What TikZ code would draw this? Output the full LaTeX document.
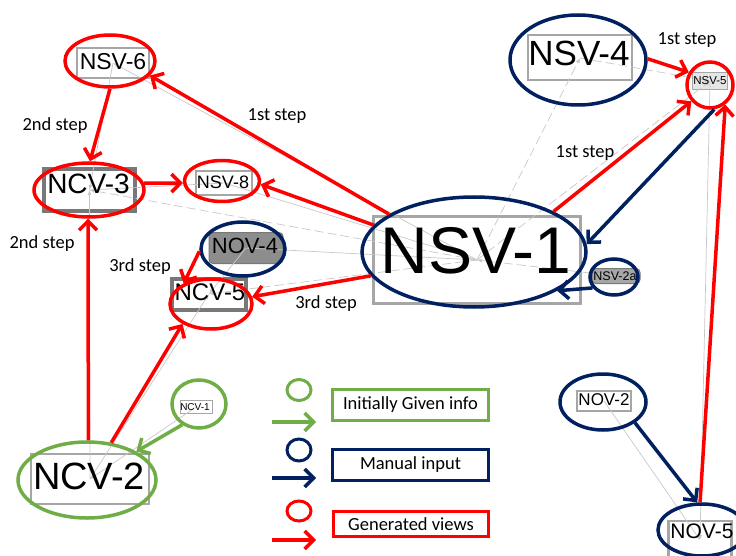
\documentclass[tikz,border=0pt]{standalone}
\usepackage{fontspec}
\setmainfont{Liberation Sans}
\newfontfamily\labfont{Carlito}
\usetikzlibrary{arrows.meta,shapes.geometric}
\definecolor{myred}{RGB}{255,0,0}
\definecolor{navy}{RGB}{0,32,96}
\definecolor{mygreen}{RGB}{112,173,71}
\definecolor{lgray}{RGB}{166,166,166}
\definecolor{dgray}{RGB}{120,120,120}
\definecolor{lline}{RGB}{200,200,200}
\newcommand{\fs}[1]{\fontsize{#1}{#1}\selectfont}
\begin{document}
\begin{tikzpicture}[x=1pt,y=-1pt,
  box/.style={rectangle, draw=lgray, line width=2pt, fill=white, inner sep=0pt},
  dbox/.style={rectangle, draw=dgray, line width=4pt, fill=white, inner sep=0pt},
  fbox/.style={rectangle, draw=dgray, line width=1pt, fill=lgray!85!black, rounded corners=4pt, inner sep=0pt},
  ntext/.style={inner sep=0pt, text=black},
  ring/.style={ellipse, draw=#1, line width=3.5pt, inner sep=0pt},
  tip/.style={-{Straight Barb[length=9pt,width=18pt]}},
  rarrow/.style={draw=myred, line width=3.5pt, tip},
  barrow/.style={draw=navy, line width=3.5pt, tip},
  garrow/.style={draw=mygreen, line width=3.5pt, tip},
  gline/.style={draw=lline, line width=0.7pt, -{Latex[length=5pt,width=4pt]}},
  glined/.style={gline, dash pattern=on 9pt off 4pt},
  lab/.style={font=\labfont\fs{18.5}, inner sep=0pt},
  legbox/.style={rectangle, line width=3.5pt, inner sep=0pt, font=\labfont\fs{18.5}}
]
\useasboundingbox (0,0) rectangle (736,556);
\clip (0,0) rectangle (736,556);

% ---- boxes ----
\node[box, minimum width=72pt, minimum height=30pt] (r6) at (113,63) {};
\node[dbox, minimum width=91pt, minimum height=42pt] (r3) at (89.5,190) {};
\node[box, minimum width=56pt, minimum height=24pt] (r8) at (224,183) {};
\node[fbox, minimum width=74pt, minimum height=31pt] (rn4) at (246,248) {};
\node[dbox, minimum width=74pt, minimum height=31pt] (r5) at (209,294) {};
\node[box, line width=3pt, minimum width=207pt, minimum height=87pt] (r1) at (477,260) {};
\node[box, minimum width=104pt, minimum height=45pt] (r4) at (580,58) {};
\node[box, line width=1.5pt, fill=gray!20, minimum width=35pt, minimum height=17pt] (rs5) at (710,81) {};
\node[fbox, fill=lgray, minimum width=48pt, minimum height=15pt] (r2a) at (616,276) {};
\node[box, line width=1pt, minimum width=32pt, minimum height=13pt] (rc1) at (196,407) {};
\node[box, minimum width=118pt, minimum height=50pt] (rc2) at (90,479) {};
\node[box, line width=2.5pt, minimum width=54pt, minimum height=20pt] (ro2) at (604,401) {};
\node[box, line width=2.5pt, minimum width=63pt, minimum height=38pt] (ro5) at (700,540) {};

% ---- faint grey links ----
\draw[gline] (r1.center) -- (r6.center);
\draw[glined] (r1.center) -- (r3.center);
\draw[gline] (r1.center) -- (r8.center);
\draw[gline] (r1.center) -- (rn4.center);
\draw[glined] (r1.center) -- (r5.center);
\draw[glined] (r1.center) -- (r4.center);
\draw[glined] (r1.center) -- (rs5.center);
\draw[glined] (r4.center) -- (rs5.center);
\draw[gline] (rs5.center) -- (ro5.center);
\draw[glined] (r2a.center) -- (r1.center);
\draw[gline] (rc2.center) -- (r5.center);
\draw[gline] (rc1.center) -- (rc2.center);
\draw[gline] (rc2.center) -- (r3.center);
\draw[gline] (r6.center) -- (r3.center);
\draw[gline] (r3.center) -- (r8.center);
\draw[gline] (rn4.center) -- (r5.center);
\draw[gline] (ro2.center) -- (ro5.center);

% ---- node texts ----
\node[ntext, font=\fs{23}] (t6) at (113,61.5) {NSV-6};
\node[ntext, font=\fs{28}] (t3) at (88.5,184) {NCV-3};
\node[ntext, font=\fs{18}] (t8) at (223,182.5) {NSV-8};
\node[ntext, font=\fs{22}] (tn4) at (245,246) {NOV-4};
\node[ntext, font=\fs{24}] (t5) at (210,292) {NCV-5};
\node[ntext, font=\fs{66}] (t1) at (476,251) {NSV-1};
\node[ntext, font=\fs{35}] (t4) at (579,53.5) {NSV-4};
\node[ntext, font=\fs{11.5}] (ts5) at (710,81) {NSV-5};
\node[ntext, font=\fs{12.5}] (t2a) at (615,276) {NSV-2a};
\node[ntext, font=\fs{10}] (tc1) at (195,407) {NCV-1};
\node[ntext, font=\fs{38}] (tc2) at (89,476) {NCV-2};
\node[ntext, font=\fs{17}] (to2) at (604,400) {NOV-2};
\node[ntext, font=\fs{21}] (to5) at (702,531) {NOV-5};

% ---- rings ----
\node[ring=myred, minimum width=90pt, minimum height=52pt] (e6) at (110,61) {};
\node[ring=myred, minimum width=110pt, minimum height=54pt] (e3) at (89,190) {};
\node[ring=myred, minimum width=75pt, minimum height=41pt] (e8) at (222,181) {};
\node[ring=navy, minimum width=84pt, minimum height=54pt] (en4) at (243,249) {};
\node[ring=myred, minimum width=82pt, minimum height=50pt] (e5) at (211,304) {};
\node[ring=navy, minimum width=224pt, minimum height=110pt] (e1) at (474,252) {};
\node[ring=navy, minimum width=136pt, minimum height=90pt] (e4) at (578,60) {};
\node[ring=myred, minimum width=46pt, minimum height=46pt] (es5) at (710,85) {};
\node[ring=navy, minimum width=48pt, minimum height=36pt] (e2a) at (614,277) {};
\node[ring=mygreen, minimum width=54pt, minimum height=48pt] (ec1) at (199,404) {};
\node[ring=mygreen, minimum width=138pt, minimum height=76pt] (ec2) at (87,480) {};
\node[ring=navy, minimum width=86pt, minimum height=56pt] (eo2) at (603,402) {};
\node[ring=navy, minimum width=88pt, minimum height=52pt] (eo5) at (702,530) {};

% ---- red arrows ----
\draw[rarrow] (e1.156) -- (e6.340);
\draw[rarrow] (e1.165) -- (e8.355);
\draw[rarrow] (e1.193) -- (e5.10);
\draw[rarrow] (e1.27) -- (es5.221);
\draw[rarrow] (e4.1) -- (es5.149);
\draw[rarrow] (eo5.94) -- (es5.308);
\draw[rarrow] (ec2.88) -- (e3.268);
\draw[rarrow] (ec2.57) -- (e5.215);
\draw[rarrow] (e6.270) -- (e3.88);
\draw[rarrow] (e3.7) -- (e8.183);
\draw[rarrow] (en4.183) -- (e5.143);

% ---- blue arrows ----
\draw[barrow] (es5.280) -- (e1.4);
\draw[barrow] (e2a.207) -- (e1.335);
\draw[barrow] (eo2.327) -- (eo5.100);

% ---- green arrow ----
\draw[garrow] (ec1.231) -- (ec2.30);

% ---- step labels ----
\node[lab] (s1) at (277,116) {1st step};
\node[lab] (s2) at (55,126) {2nd step};
\node[lab] (s3) at (42,244) {2nd step};
\node[lab] (s4) at (140,267) {3rd step};
\node[lab] (s5) at (326,304) {3rd step};
\node[lab] (s6) at (585,153) {1st step};
\node[lab] (s7) at (687,40) {1st step};

% ---- legend ----
\node[ring=mygreen, line width=3pt, minimum width=24pt, minimum height=21pt] (lc1) at (299,390) {};
\coordinate (la1) at (272,422); \coordinate (lb1) at (316,422);
\draw[garrow] (la1) -- (lb1);
\node[legbox, draw=mygreen, minimum width=156pt, minimum height=31pt] (lt1) at (410.5,405) {Initially Given info};

\node[ring=navy, line width=3pt, minimum width=24pt, minimum height=22pt] (lc2) at (299,450) {};
\coordinate (la2) at (272,478); \coordinate (lb2) at (316,478);
\draw[barrow] (la2) -- (lb2);
\node[legbox, draw=navy, minimum width=156pt, minimum height=31pt] (lt2) at (410.5,465) {Manual input};

\node[ring=myred, line width=3pt, minimum width=24pt, minimum height=20pt] (lc3) at (299,511) {};
\coordinate (la3) at (272,540); \coordinate (lb3) at (316,540);
\draw[rarrow] (la3) -- (lb3);
\node[legbox, draw=myred, minimum width=155pt, minimum height=25pt] (lt3) at (411,524) {Generated views};
\end{tikzpicture}
\end{document}
